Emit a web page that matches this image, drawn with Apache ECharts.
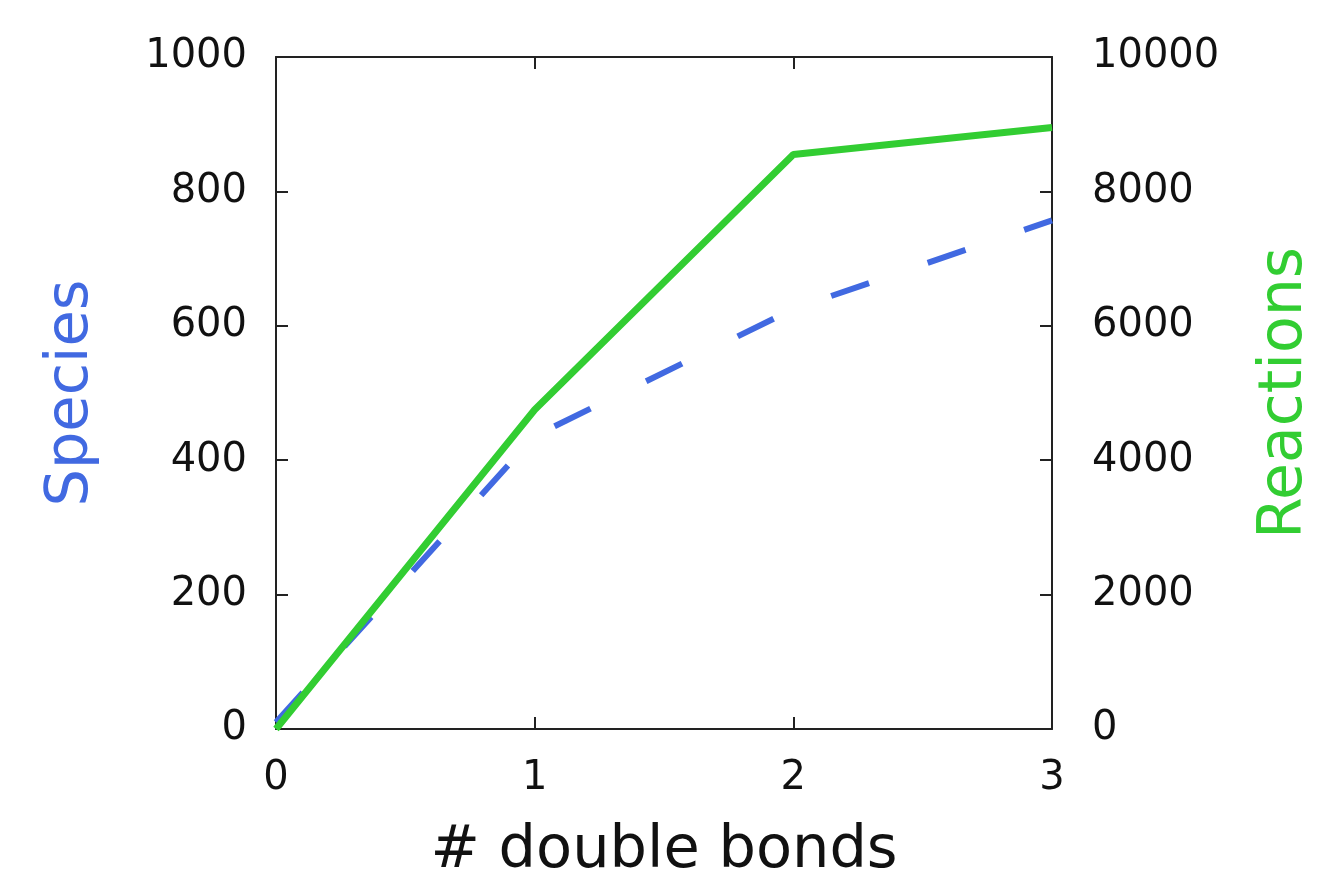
<!DOCTYPE html>
<html>
<head>
<meta charset="utf-8">
<script src="https://cdn.jsdelivr.net/npm/echarts@6/dist/echarts.min.js"></script>
<style>
html,body{margin:0;padding:0;background:#fff;overflow:hidden;}
#chart{width:1317px;height:876px;}
</style>
</head>
<body>
<div id="chart"></div>
<script>
const bonds = [0, 1, 2, 3];
const species = [10, 436, 625, 757];
const reactions = [0, 4750, 8550, 8950];

const FONT = 'DejaVu Sans';
const chart = echarts.init(document.getElementById('chart'), null, {renderer: 'canvas', width: 1317, height: 876});

const mkLine = () => ({show: true, onZero: false, lineStyle: {color: '#222', width: 2}});
const mkTick = () => ({show: true, inside: true, length: 12, lineStyle: {color: '#222', width: 2}});
const mkLbl = (m) => ({margin: m, color: '#111', fontFamily: FONT, fontSize: 40, formatter: v => String(v)});

chart.setOption({
  animation: false,
  backgroundColor: '#fff',
  grid: {left: 276, top: 57, width: 776, height: 672, containLabel: false, outerBoundsMode: 'none'},
  xAxis: [
    {
      type: 'value', min: 0, max: 3, interval: 1, position: 'bottom',
      axisLine: mkLine(), axisTick: mkTick(), splitLine: {show: false},
      axisLabel: mkLbl(30),
      name: '# double bonds', nameLocation: 'middle', nameGap: 93,
      nameTextStyle: {color: '#111', fontFamily: FONT, fontSize: 59}
    },
    {
      type: 'value', min: 0, max: 3, interval: 1, position: 'top',
      axisLine: mkLine(), axisTick: mkTick(), splitLine: {show: false},
      axisLabel: {show: false}
    }
  ],
  yAxis: [
    {
      type: 'value', min: 0, max: 1000, interval: 200, position: 'left',
      axisLine: mkLine(), axisTick: mkTick(), splitLine: {show: false},
      axisLabel: mkLbl(29),
      name: 'Species', nameLocation: 'middle', nameGap: 175, nameRotate: 90,
      nameTextStyle: {color: '#4169E1', fontFamily: FONT, fontSize: 59}
    },
    {
      type: 'value', min: 0, max: 10000, interval: 2000, position: 'right',
      axisLine: mkLine(), axisTick: mkTick(), splitLine: {show: false},
      axisLabel: mkLbl(40),
      name: 'Reactions', nameLocation: 'middle', nameGap: 203, nameRotate: 90,
      nameTextStyle: {color: '#32CD32', fontFamily: FONT, fontSize: 60}
    }
  ],
  series: [
    {
      type: 'line', xAxisIndex: 0, yAxisIndex: 0,
      data: bonds.map((b, i) => [b, species[i]]),
      showSymbol: false, clip: true,
      lineStyle: {color: '#4169E1', width: 6, type: [40, 62], cap: 'butt'},
      z: 2
    },
    {
      type: 'line', xAxisIndex: 0, yAxisIndex: 1,
      data: bonds.map((b, i) => [b, reactions[i]]),
      showSymbol: false, clip: true,
      lineStyle: {color: '#32CD32', width: 7, type: 'solid'},
      z: 3
    }
  ]
});
</script>
</body>
</html>
